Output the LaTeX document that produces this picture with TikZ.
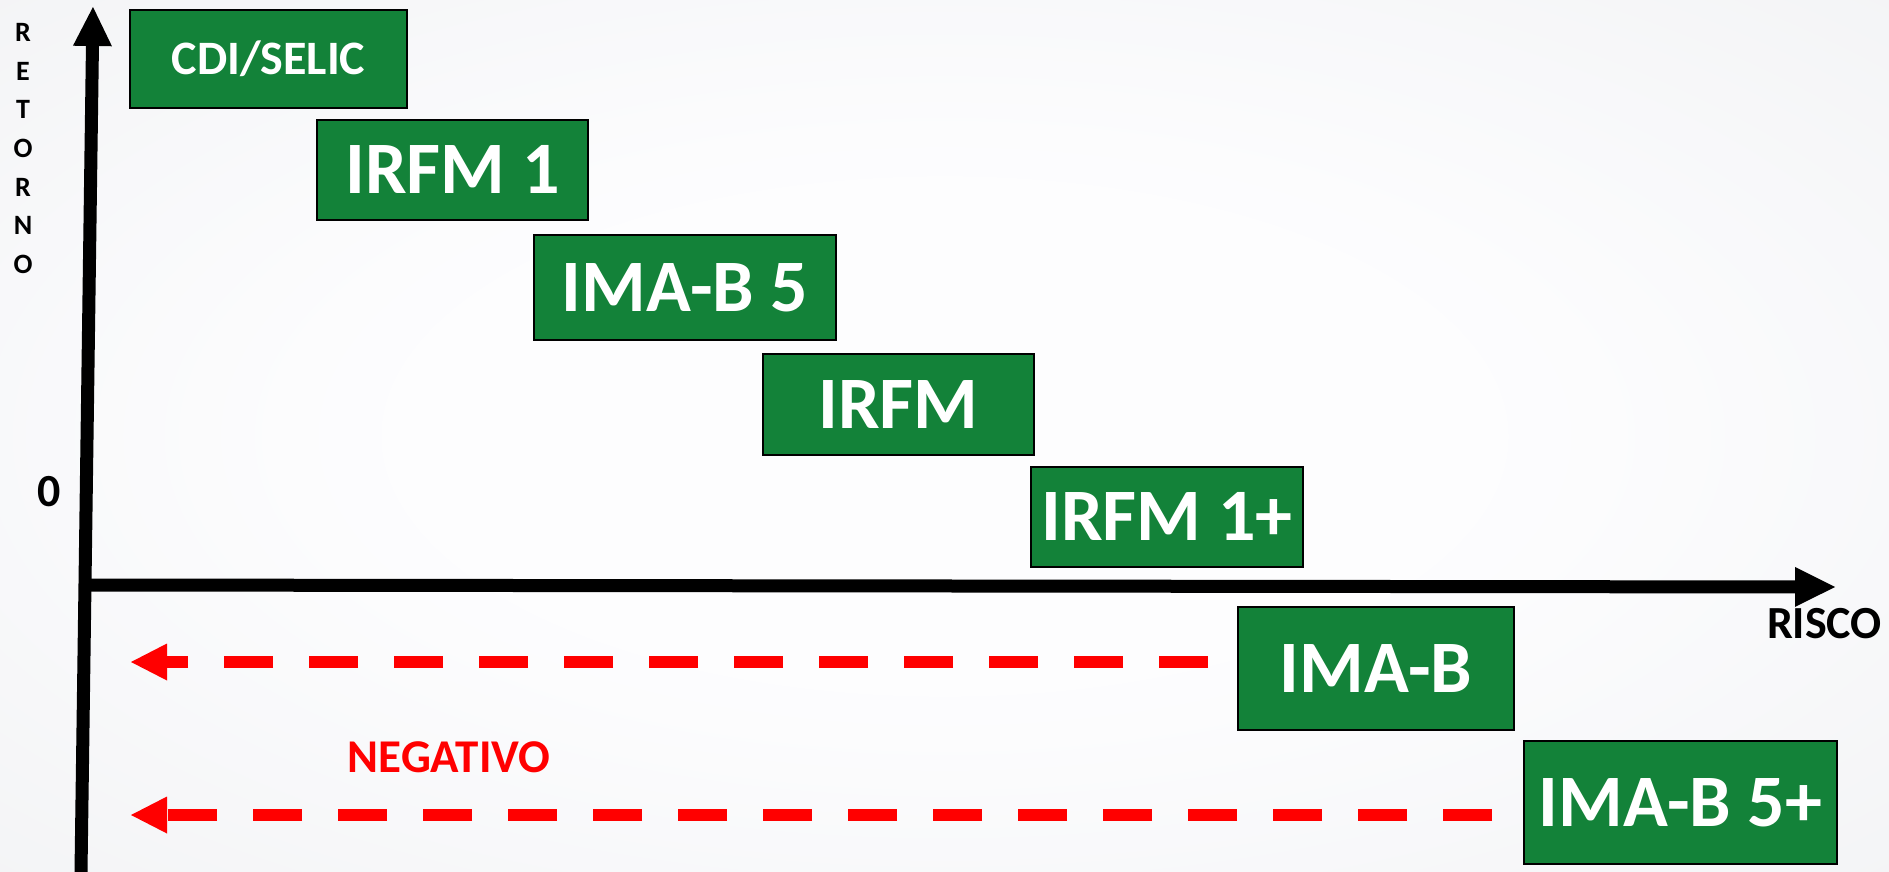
\documentclass[tikz,border=0pt]{standalone}
\usepackage{fontspec}
\setmainfont{Carlito}
\usetikzlibrary{arrows.meta}
\definecolor{boxgreen}{RGB}{19,130,57}
\definecolor{negred}{RGB}{255,0,0}
\pgfdeclareradialshading{bgshade}{\pgfpoint{0bp}{0bp}}{rgb(0bp)=(0.993,0.993,0.997); rgb(16bp)=(0.99,0.99,0.995); rgb(72bp)=(0.89,0.898,0.91)}
\tikzset{
  bigbox/.style={draw=black, line width=2pt, fill=boxgreen, text=white, inner sep=0pt,
    font=\bfseries\fontsize{74}{80}\selectfont, text height=47.5pt, text depth=0pt},
  smallbox/.style={bigbox, font=\bfseries\fontsize{48}{52}\selectfont, text height=30.5pt},
  axisline/.style={line width=13pt, draw=black},
  neglbl/.style={text=negred, inner sep=0pt, font=\bfseries\fontsize{47}{50}\selectfont, text height=30pt, text depth=0pt},
  blacklbl/.style={text=black, inner sep=0pt, font=\bfseries\fontsize{46}{50}\selectfont, text height=29.5pt, text depth=0pt},
  letterlbl/.style={text=black, inner sep=0pt, font=\bfseries\fontsize{28}{30}\selectfont, text height=18pt, text depth=0pt},
  negarrow/.style={draw=negred, line width=12pt, dash pattern=on 49pt off 36pt,
    -{Triangle[width=37pt,length=36pt,line width=0pt]}}
}
\begin{document}
\begin{tikzpicture}[x=1pt,y=-1pt]
\useasboundingbox (0,0) rectangle (1889,872);
\shade[shading=bgshade] (0,0) rectangle (1889,872);

% axes
\coordinate (ybot) at (81,872);
\coordinate (ytop) at (93,7);
\coordinate (xleft) at (80,585);
\coordinate (xright) at (1835,587);
\draw[axisline, -{Triangle[width=39pt,length=39pt,line width=0pt]}] (ybot) -- (ytop);
\draw[axisline, -{Triangle[width=40pt,length=40pt,line width=0pt]}] (xleft) -- (xright);

% boxes
\node[smallbox, minimum width=277pt, minimum height=98pt] (cdi) at (268.5,59) {CDI/SELIC};
\node[bigbox, minimum width=271pt, minimum height=100pt] (irfm1) at (452.5,170) {IRFM 1};
\node[bigbox, minimum width=302pt, minimum height=105pt] (imab5) at (685,287.5) {IMA-B 5};
\node[bigbox, minimum width=271pt, minimum height=101pt] (irfm) at (898.5,404.5) {IRFM};
\node[bigbox, minimum width=272pt, minimum height=100pt] (irfm1p) at (1167,517) {IRFM 1+};
\node[bigbox, minimum width=276pt, minimum height=123pt] (imab) at (1376,668.5) {IMA-B};
\node[bigbox, minimum width=313pt, minimum height=123pt] (imab5p) at (1680.5,802.5) {IMA-B 5+};

% labels
\foreach \l [count=\i from 0] in {R,E,T,O,R,N,O}
  \node[letterlbl] (ret\i) at (23,{33+38.5*\i}) {\l};
\node[blacklbl] (zero) at (49,492) {0};
\node[blacklbl] (risco) at (1824.5,624) {RISCO};
\node[neglbl] (neg) at (449,757.5) {NEGATIVO};

% negative arrows
\coordinate (n1s) at (1208,662);
\coordinate (n1e) at (131,662);
\coordinate (n2s) at (1492,815);
\coordinate (n2e) at (131,815);
\draw[negarrow] (n1s) -- (n1e);
\draw[negarrow] (n2s) -- (n2e);
\end{tikzpicture}
\end{document}
